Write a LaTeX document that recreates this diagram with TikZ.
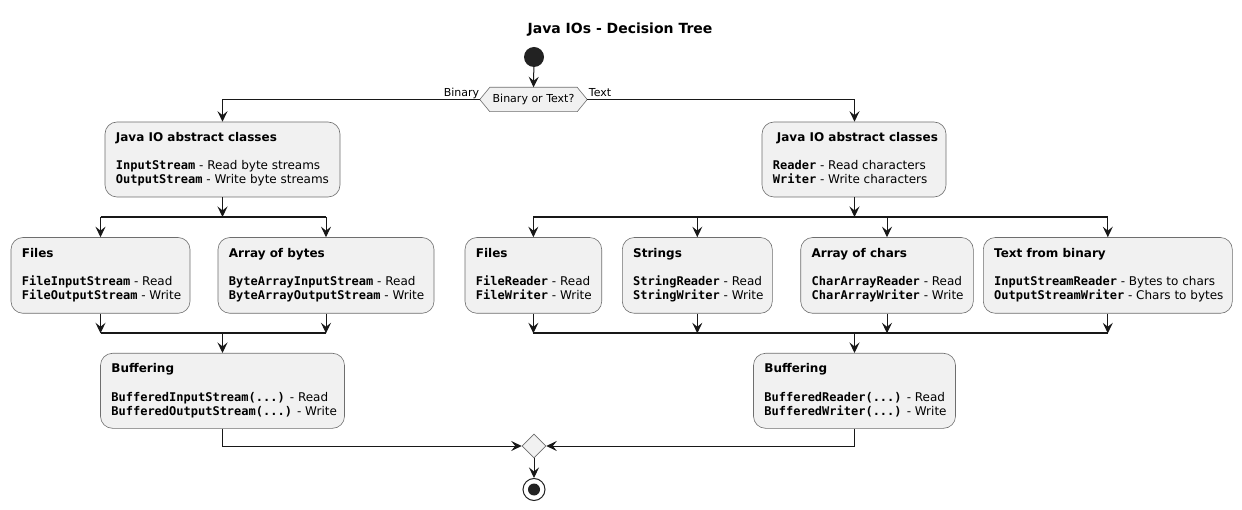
\documentclass[tikz,border=0pt]{standalone}
\usepackage{fontspec}
\setmainfont{DejaVu Sans}
\setmonofont{DejaVu Sans Mono}
\usetikzlibrary{arrows.meta,shapes.geometric}
\definecolor{boxfill}{HTML}{F1F1F1}
\definecolor{ink}{HTML}{181818}
\definecolor{boxline}{HTML}{6E6E6E}
\definecolor{dot}{HTML}{222222}
\newcommand\jc[1]{{\ttfamily\bfseries #1}}
\newcommand\actbox[8]{%
  \node[abox, minimum width={(#4-#2)*1pt}, minimum height={(#5-#3)*1pt}] (#1) at ({(#2+#4)/2},{(#3+#5)/2}) {};
  \node[atext] (#1-t) at ([shift={(11,20)}]#1.north west) {\bfseries #6};
  \node[atext] (#1-a) at ([shift={(11,48)}]#1.north west) {#7};
  \node[atext] (#1-b) at ([shift={(11,62)}]#1.north west) {#8};
}
\begin{document}
\begin{tikzpicture}[x=1pt,y=-1pt,
  abox/.style={draw=boxline, line width=0.6pt, fill=boxfill, rounded corners=12pt, inner sep=0pt},
  atext/.style={anchor=base west, inner sep=0pt, font=\fontsize{12}{14}\selectfont, text=black},
  flow/.style={draw=ink, line width=1pt, -{Stealth[length=10.5pt,width=10pt,inset=4pt]}},
  bar/.style={draw=ink, line width=2pt},
  lbl/.style={inner sep=0pt, font=\fontsize{11}{13}\selectfont, text=black}]
\useasboundingbox (0,0) rectangle (1242,510);
\fill[white] (0,0) rectangle (1242,510);

% title
\node[anchor=base, inner sep=0pt, font=\fontsize{14}{16}\selectfont\bfseries] (title) at (620,33.3) {Java IOs - Decision Tree};

% start and decision
\node[circle, fill=dot, minimum size=20pt, inner sep=0pt] (start) at (534,57) {};
\node[inner sep=0pt, minimum width=107pt, minimum height=24pt] (dec) at (533.5,99.5) {};
\draw[draw=boxline, line width=0.6pt, fill=boxfill]
  (dec.west) -- ([xshift=10pt]dec.north west) -- ([xshift=-10pt]dec.north east)
  -- (dec.east) -- ([xshift=-10pt]dec.south east) -- ([xshift=10pt]dec.south west) -- cycle;
\node[lbl] (dect) at (dec) {Binary or Text?};
\node[lbl, anchor=base east] (lbin) at ([shift={(-0.5,-3)}]dec.west) {Binary};
\node[lbl, anchor=base west] (ltxt) at ([shift={(1.5,-3)}]dec.east) {Text};

% boxes, binary side
\actbox{binAbs}{105}{122}{340}{197}{Java IO abstract classes}{\jc{InputStream} - Read byte streams}{\jc{OutputStream} - Write byte streams}
\actbox{binFiles}{11}{237.5}{190}{313.3}{Files}{\jc{FileInputStream} - Read}{\jc{FileOutputStream} - Write}
\actbox{binBytes}{218}{237.5}{434}{313.3}{Array of bytes}{\jc{ByteArrayInputStream} - Read}{\jc{ByteArrayOutputStream} - Write}
\actbox{binBuf}{100.5}{353.3}{344.5}{428.3}{Buffering}{\jc{BufferedInputStream(...)} - Read}{\jc{BufferedOutputStream(...)} - Write}

% boxes, text side
\actbox{txtAbs}{762}{122}{946}{197}{\hspace{4pt}Java IO abstract classes}{\jc{Reader} - Read characters}{\jc{Writer} - Write characters}
\actbox{txtFiles}{465}{237.5}{601.7}{313.3}{Files}{\jc{FileReader} - Read}{\jc{FileWriter} - Write}
\actbox{txtStr}{622.3}{237.5}{772.3}{313.3}{Strings}{\jc{StringReader} - Read}{\jc{StringWriter} - Write}
\actbox{txtChars}{800.7}{237.5}{973.3}{313.3}{Array of chars}{\jc{CharArrayReader} - Read}{\jc{CharArrayWriter} - Write}
\actbox{txtBin}{983.3}{237.5}{1232.3}{313.3}{Text from binary}{\jc{InputStreamReader} - Bytes to chars}{\jc{OutputStreamWriter} - Chars to bytes}
\actbox{txtBuf}{753.5}{353.3}{955.5}{428.3}{Buffering}{\jc{BufferedReader(...)} - Read}{\jc{BufferedWriter(...)} - Write}

% merge and end
\node[diamond, draw=boxline, line width=0.6pt, fill=boxfill, minimum size=24pt, inner sep=0pt, aspect=1] (merge) at (534,446) {};
\node[circle, draw=dot, line width=1pt, fill=white, minimum size=22pt, inner sep=0pt] (end) at (534,489.5) {};
\node[circle, fill=dot, minimum size=12pt, inner sep=0pt] (endi) at (end) {};

% split / join coordinates
\coordinate (bs) at (222.5,217);
\coordinate (bj) at (222.5,333.3);
\coordinate (ts) at (854.5,217);
\coordinate (tj) at (854.5,333.3);

% connectors
\draw[flow] (start) -- (dec.north);
\draw[flow] (dec.west) -| (binAbs.north);
\draw[flow] (dec.east) -| (txtAbs.north -| ts);

% binary split
\draw[flow] (binAbs.south) -- (bs);
\draw[bar] (binFiles.north |- bs) -- (binBytes.north |- bs);
\draw[flow] (binFiles.north |- bs) -- (binFiles.north);
\draw[flow] (binBytes.north |- bs) -- (binBytes.north);
\draw[flow] (binFiles.south) -- (binFiles.south |- bj);
\draw[flow] (binBytes.south) -- (binBytes.south |- bj);
\draw[bar] (binFiles.south |- bj) -- (binBytes.south |- bj);
\draw[flow] (bj) -- (binBuf.north);

% text split
\draw[flow] (txtAbs.south -| ts) -- (ts);
\draw[bar] (txtFiles.north |- ts) -- (txtBin.north |- ts);
\draw[flow] (txtFiles.north |- ts) -- (txtFiles.north);
\draw[flow] (txtStr.north |- ts) -- (txtStr.north);
\draw[flow] (txtChars.north |- ts) -- (txtChars.north);
\draw[flow] (txtBin.north |- ts) -- (txtBin.north);
\draw[flow] (txtFiles.south) -- (txtFiles.south |- tj);
\draw[flow] (txtStr.south) -- (txtStr.south |- tj);
\draw[flow] (txtChars.south) -- (txtChars.south |- tj);
\draw[flow] (txtBin.south) -- (txtBin.south |- tj);
\draw[bar] (txtFiles.south |- tj) -- (txtBin.south |- tj);
\draw[flow] (tj) -- (txtBuf.north);

% merge
\draw[flow] (binBuf.south) |- (merge.west);
\draw[flow] (txtBuf.south) |- (merge.east);
\draw[flow] (merge.south) -- (end.north);
\end{tikzpicture}
\end{document}
